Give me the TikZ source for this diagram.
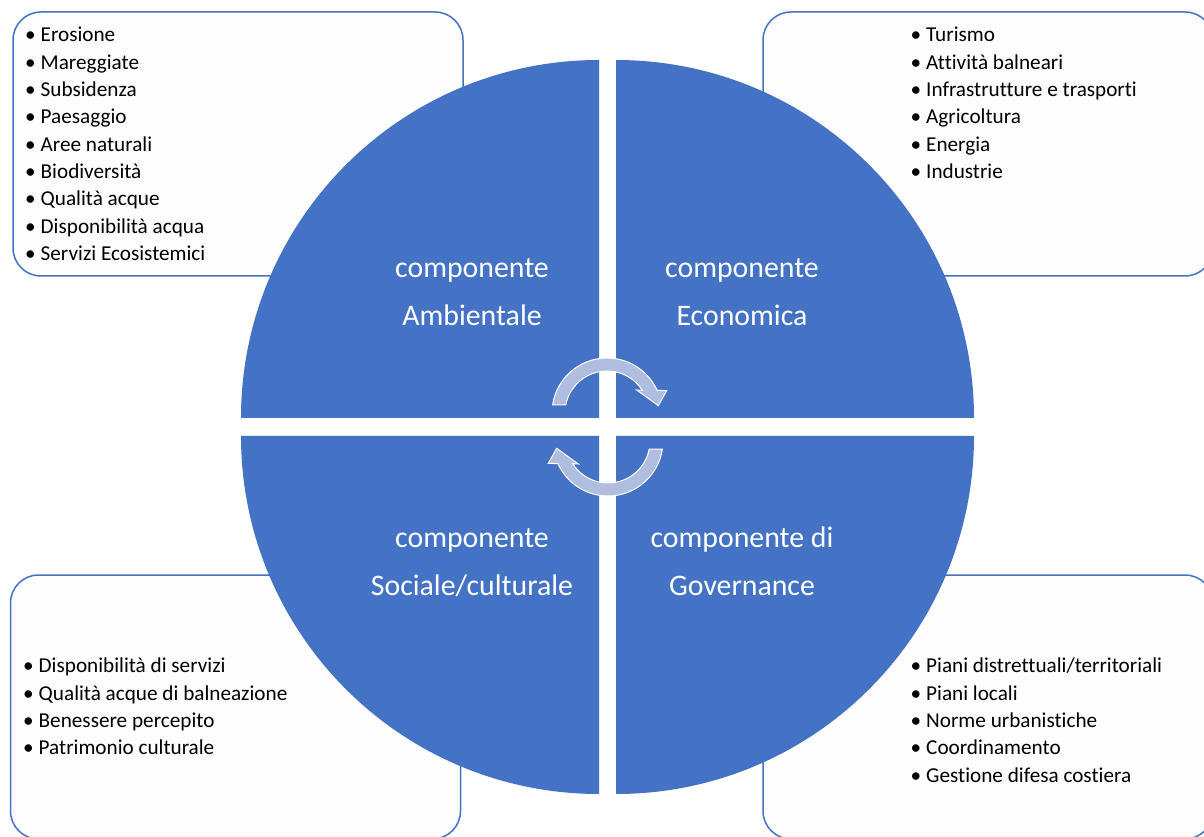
\documentclass[tikz,border=0pt]{standalone}
\usepackage{fontspec}
\setmainfont{Carlito}[Ligatures=NoCommon]
\usepackage{tikz}
\definecolor{compblue}{RGB}{68,114,196}
\definecolor{turnblue}{RGB}{175,189,224}
\definecolor{boxfill}{RGB}{253,253,253}
\newcommand{\itm}[1]{\makebox[15.5pt][l]{\textbullet}#1}
\tikzstyle{listbox} = [rectangle, draw=compblue, fill=boxfill, line width=1.5pt,
    rounded corners=28pt, minimum width=450pt, minimum height=264pt]
\tikzstyle{items} = [anchor=north west, inner sep=0pt, align=left,
    font=\fontsize{21.2}{27.3}\selectfont]
\tikzstyle{comp} = [anchor=north, inner sep=0pt, align=center, text=white,
    font=\fontsize{29.8}{47.7}\selectfont]
\tikzstyle{sector} = [fill=compblue]
\tikzstyle{turn} = [fill=turnblue, draw=white, line width=1pt]

\begin{document}
\begin{tikzpicture}[x=1pt, y=1pt]
  \clip (0,0) rectangle (1204,836);
  \fill[white] (0,0) rectangle (1204,836);
  % boxes
  \node [listbox](envbox) at (238,692) {};
  \node [listbox](ecobox) at (988,692) {};
  \node [listbox](socbox) at (235.5,129) {};
  \node [listbox](govbox) at (988,129) {};
  % circle
  \fill [sector] (599,418) -- (241,418) arc[start angle=180, end angle=90, radius=358pt] -- cycle;
  \fill [sector] (616,418) -- (974,418) arc[start angle=0, end angle=90, radius=358pt] -- cycle;
  \fill [sector] (599,400) -- (241,400) arc[start angle=180, end angle=270, radius=358pt] -- cycle;
  \fill [sector] (616,400) -- (974,400) arc[start angle=0, end angle=-90, radius=358pt] -- cycle;
  % turning arrows
  \begin{scope}[shift={(607,423)}]
    \draw [turn] (171.6:55pt) arc[start angle=171.6, end angle=24.4, radius=55pt]
      -- (59.7,22.3) -- (51.3,7.3) -- (29.7,23) -- (32.7:42pt)
      arc[start angle=32.7, end angle=169, radius=42pt] -- cycle;
  \end{scope}
  \begin{scope}[shift={(608,395)}, rotate=180]
    \draw [turn] (171.6:55pt) arc[start angle=171.6, end angle=24.4, radius=55pt]
      -- (59.7,22.3) -- (51.3,7.3) -- (29.7,23) -- (32.7:42pt)
      arc[start angle=32.7, end angle=169, radius=42pt] -- cycle;
  \end{scope}
  % labels
  \node [comp](env) at (472,592.1) {\strut componente\\Ambientale};
  \node [comp](eco) at (742,592.1) {\strut componente\\Economica};
  \node [comp](soc) at (472,322.1) {\strut componente\\Sociale/culturale};
  \node [comp](gov) at (742,322.1) {\strut componente di\\Governance};
  % lists
  \node [items](envlist) at (25,813.4) {\strut\itm{Erosione}\\\itm{Mareggiate}\\\itm{Subsidenza}\\
    \itm{Paesaggio}\\\itm{Aree naturali}\\\itm{Biodiversità}\\\itm{Qualità acque}\\
    \itm{Disponibilità acqua}\\\itm{Servizi Ecosistemici}};
  \node [items](ecolist) at (910.5,813.4) {\strut\itm{Turismo}\\\itm{Attività balneari}\\
    \itm{Infrastrutture e trasporti}\\\itm{Agricoltura}\\\itm{Energia}\\\itm{Industrie}};
  \node [items](soclist) at (23,182.4) {\strut\itm{Disponibilità di servizi}\\
    \itm{Qualità acque di balneazione}\\\itm{Benessere percepito}\\\itm{Patrimonio culturale}};
  \node [items](govlist) at (910.5,182.4) {\strut\itm{Piani distrettuali/territoriali}\\
    \itm{Piani locali}\\\itm{Norme urbanistiche}\\\itm{Coordinamento}\\
    \itm{Gestione difesa costiera}};
\end{tikzpicture}
\end{document}
